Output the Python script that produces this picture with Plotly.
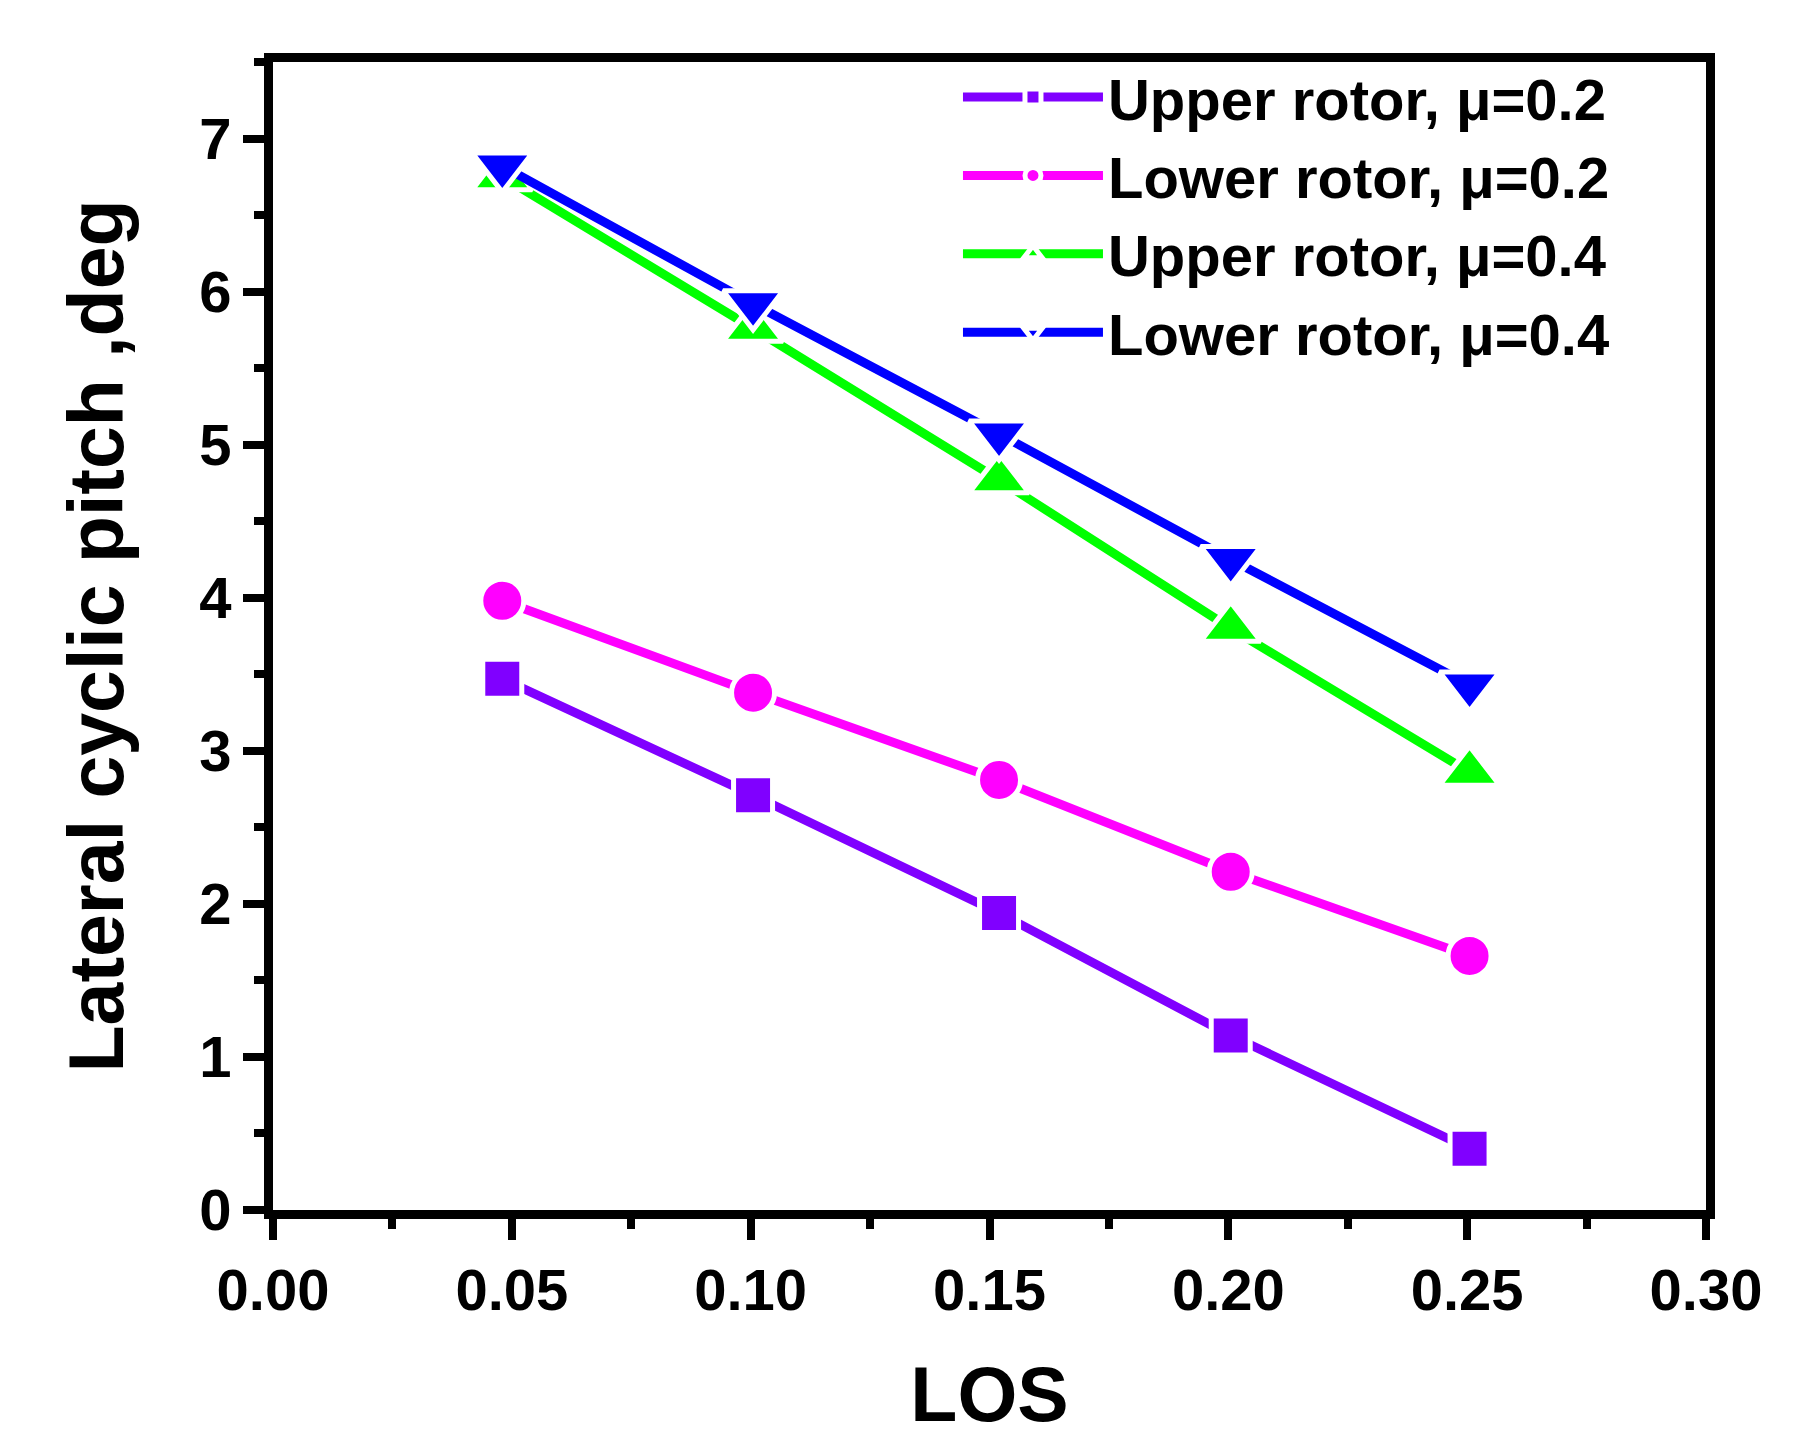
import plotly.graph_objects as go

# LOS values (shared x for all four series)
los = [0.048, 0.1005, 0.152, 0.2005, 0.2505]

# lateral cyclic pitch, deg
upper_mu02 = [3.47, 2.71, 1.94, 1.14, 0.40]
lower_mu02 = [3.98, 3.38, 2.81, 2.21, 1.66]
upper_mu04 = [6.75, 5.76, 4.77, 3.80, 2.86]
lower_mu04 = [6.82, 5.92, 5.07, 4.25, 3.43]

names = ["Upper rotor, μ=0.2", "Lower rotor, μ=0.2",
         "Upper rotor, μ=0.4", "Lower rotor, μ=0.4"]
series = [upper_mu02, lower_mu02, upper_mu04, lower_mu04]
colors = ["#8000FF", "#FF00FF", "#00FF00", "#0000FF"]
symbols = ["square", "circle", "triangle-up", "triangle-down"]
sizes = [39, 43, 52, 52]

FONT = "Arial, Liberation Sans, sans-serif"

fig = go.Figure()

for name, y, c, s, sz in zip(names, series, colors, symbols, sizes):
    fig.add_trace(go.Scatter(
        x=los, y=y, name=name, mode="lines+markers",
        line=dict(color=c, width=9),
        marker=dict(symbol=s, size=sz, color=c,
                    line=dict(color="white", width=5)),
    ))

axis_common = dict(
    showline=True, linecolor="black", linewidth=9, mirror=True,
    ticks="outside", ticklen=21, tickwidth=8, tickcolor="black",
    showgrid=False, zeroline=False,
    tickfont=dict(family=FONT, size=58, color="black", weight="bold"),
)

fig.update_xaxes(
    range=[0, 0.30], dtick=0.05, tickformat=".2f",
    minor=dict(dtick=0.025, ticks="outside", ticklen=10, tickwidth=8,
               tickcolor="black"),
    title=dict(text="LOS", standoff=50,
               font=dict(family=FONT, size=77, color="black", weight="bold")),
    **axis_common,
)
fig.update_yaxes(
    range=[0, 7.5], dtick=1,
    minor=dict(dtick=0.5, ticks="outside", ticklen=10, tickwidth=8,
               tickcolor="black"),
    title=dict(text="Lateral cyclic pitch ,deg", standoff=54,
               font=dict(family=FONT, size=77, color="black", weight="bold")),
    **axis_common,
)

fig.update_layout(
    width=1794, height=1454,
    margin=dict(l=265, r=96, t=54, b=252),
    plot_bgcolor="white", paper_bgcolor="white",
    legend=dict(
        x=0.478, y=1.008, xanchor="left", yanchor="top",
        bgcolor="rgba(0,0,0,0)", itemwidth=140,
        font=dict(family=FONT, size=58, color="black", weight="bold"),
        tracegroupgap=0,
    ),
)

fig.write_html("out.html")
